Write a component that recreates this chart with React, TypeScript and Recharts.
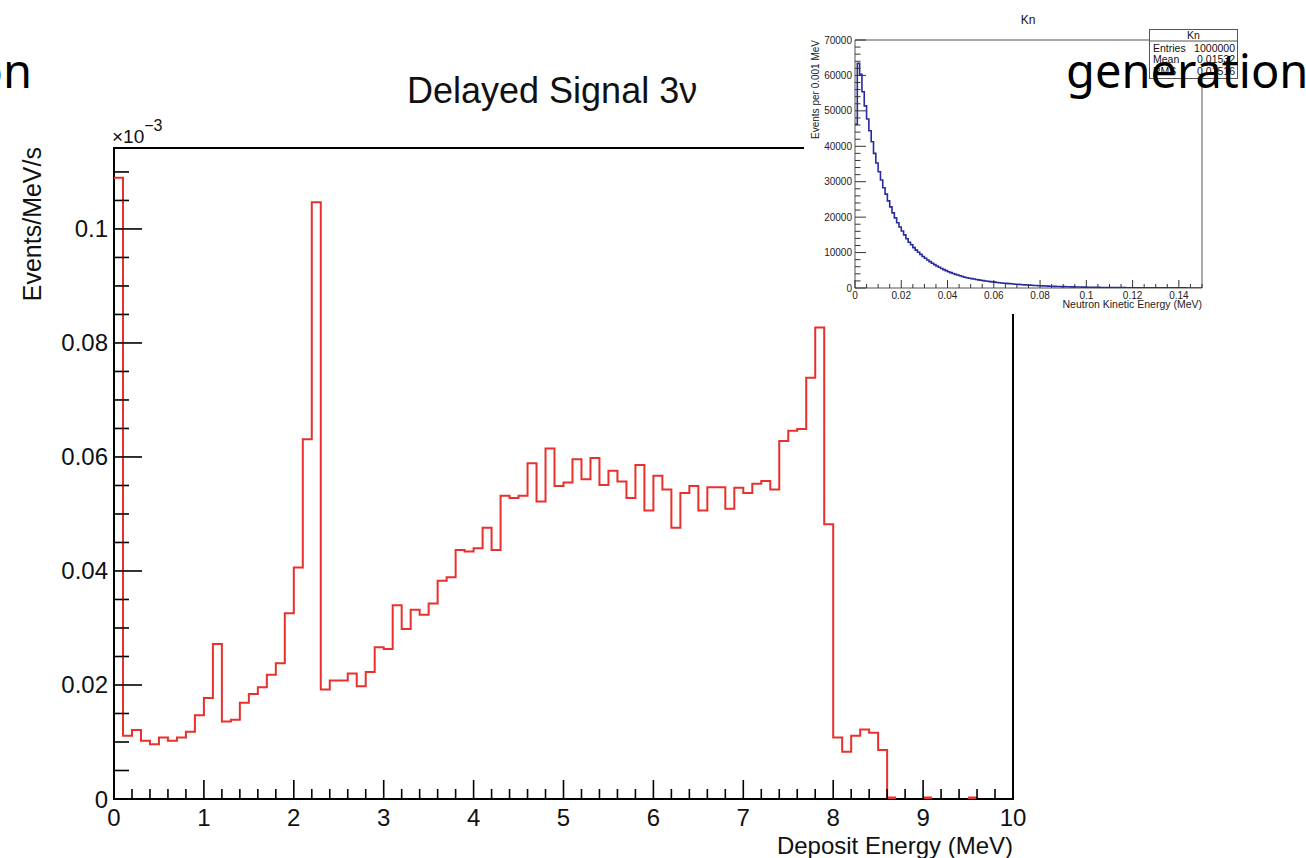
import { LineChart, Line, XAxis, YAxis, ReferenceArea } from 'recharts';

// ---- main histogram: Delayed Signal 3ν (x10^-3 Events/MeV/s per 0.1 MeV bin) ----
const BIN_WIDTH = 0.1;
const DELAYED_RATE = [
  0.109, 0.0111, 0.0121, 0.0102, 0.0096, 0.0108, 0.0102, 0.0108, 0.0118, 0.0147,
  0.0177, 0.0272, 0.0136, 0.0139, 0.0169, 0.0184, 0.0196, 0.0218, 0.0238, 0.0326,
  0.0406, 0.0631, 0.1047, 0.0192, 0.0208, 0.0208, 0.022, 0.0198, 0.0223, 0.0266,
  0.0263, 0.034, 0.0298, 0.0332, 0.0323, 0.0343, 0.0383, 0.0389, 0.0437, 0.0434,
  0.044, 0.0476, 0.0437, 0.0532, 0.0528, 0.0532, 0.0589, 0.0522, 0.0615, 0.0549,
  0.0555, 0.0596, 0.0561, 0.0598, 0.0551, 0.0576, 0.0557, 0.0528, 0.0586, 0.0506,
  0.0567, 0.0543, 0.0476, 0.0537, 0.0549, 0.0506, 0.0547, 0.0547, 0.0509, 0.0546,
  0.0537, 0.0553, 0.0558, 0.0543, 0.0628, 0.0646, 0.0649, 0.0739, 0.0827, 0.0482,
  0.0108, 0.0083, 0.0111, 0.0122, 0.0116, 0.0086, 0.0002, 0, 0, 0,
  0.0002, 0, 0, 0, 0, 0.0002, 0, 0, 0, 0,
];
// from this bin on the histogram lies on the axis, only the tiny bins are drawn
const DELAYED_CUT = 86;
const X_MAJOR = [0, 1, 2, 3, 4, 5, 6, 7, 8, 9, 10];
const Y_MAJOR = [0, 0.02, 0.04, 0.06, 0.08, 0.1];
const Y_MAX = 0.1142;

// ---- inset histogram: Kn (events per 0.001 MeV) ----
const KN_BIN_WIDTH = 0.001;
const KN_COUNTS = [
  46200, 63400, 60300, 55400, 51400, 47700, 44400, 41300, 38000, 35300,
  32800, 30500, 28300, 26500, 24600, 22900, 21200, 19800, 18400, 17200,
  16100, 15000, 13900, 12900, 12200, 11400, 10700, 10100, 9500, 8900,
  8400, 7900, 7450, 7000, 6600, 6200, 5850, 5500, 5200, 4900,
  4600, 4350, 4100, 3850, 3650, 3450, 3250, 3050, 2900, 2750,
  2650, 2520, 2400, 2290, 2180, 2080, 1990, 1900, 1810, 1730,
  1650, 1570, 1500, 1430, 1360, 1300, 1240, 1180, 1120, 1070,
  1020, 970, 925, 880, 840, 800, 760, 725, 690, 655,
  625, 595, 565, 538, 512, 487, 463, 440, 418, 397,
  377, 358, 340, 323, 307, 291, 276, 262, 249, 236,
  224, 212, 201, 190, 180, 170, 161, 152, 144, 136,
  129, 122, 115, 109, 103, 97, 92, 87, 82, 78,
  74, 70, 66, 62, 59, 56, 53, 50, 47, 45,
  42, 40, 38, 36, 34, 32, 30, 29, 27, 26,
  24, 23, 22, 21, 20, 19, 18, 17, 16, 15,
];
const KN_X_MAJOR = [0, 0.02, 0.04, 0.06, 0.08, 0.1, 0.12, 0.14];
const KN_Y_MAJOR = [0, 10000, 20000, 30000, 40000, 50000, 60000, 70000];
const KN_X_MAX = 0.15;
const KN_Y_MAX = 70000;
const KN_STATS = [
  ['Entries', '1000000'],
  ['Mean', '0.01532'],
  ['RMS', '0.01516'],
];

const ROOT_FONT = '"Liberation Sans", Arial, Helvetica, sans-serif';
const RED = '#e8302c';
const BLUE = '#2a2aa0';

const round = (v: number) => Math.round(v * 100000) / 100000;
const steps = (max: number, step: number) =>
  Array.from({ length: Math.round(max / step) + 1 }, (_, i) => round(i * step));
const isMajor = (list: number[], v: number) => list.some((m) => Math.abs(m - v) < 1e-9);

const X_TICKS = steps(10, 0.2);
const Y_TICKS = steps(0.11, 0.005);
const KN_X_TICKS = steps(KN_X_MAX, 0.005);
const KN_Y_TICKS = steps(KN_Y_MAX, 2000);

const delayedData = Array.from({ length: DELAYED_RATE.length + 1 }, (_, i) => {
  const v = DELAYED_RATE[Math.min(i, DELAYED_RATE.length - 1)];
  let t: number | null = null;
  if (i >= DELAYED_CUT) {
    if (i < DELAYED_RATE.length && DELAYED_RATE[i] > 0) t = DELAYED_RATE[i];
    else if (DELAYED_RATE[i - 1] > 0 && i - 1 >= DELAYED_CUT) t = DELAYED_RATE[i - 1];
  }
  return {
    x: round(i * BIN_WIDTH),
    h: i <= DELAYED_CUT ? v : null,
    t,
  };
});

const knData = Array.from({ length: KN_COUNTS.length + 1 }, (_, i) => ({
  x: round(i * KN_BIN_WIDTH),
  n: KN_COUNTS[Math.min(i, KN_COUNTS.length - 1)],
}));

function MainXTick({ x, y, payload }: any) {
  const v = payload.value;
  const major = isMajor(X_MAJOR, v);
  return (
    <g>
      <line x1={x} x2={x} y1={y} y2={y - (major ? 19 : 10)} stroke="#000" strokeWidth={1.6} />
      {major && (
        <text x={x} y={y + 27} textAnchor="middle" fontSize={24} fontFamily={ROOT_FONT} fill="#111">
          {v}
        </text>
      )}
    </g>
  );
}

function MainYTick({ x, y, payload }: any) {
  const v = payload.value;
  const major = isMajor(Y_MAJOR, v);
  return (
    <g>
      <line x1={x} x2={x + (major ? 28 : 15)} y1={y} y2={y} stroke="#000" strokeWidth={1.6} />
      {major && (
        <text x={x - 6} y={y + 8.5} textAnchor="end" fontSize={24} fontFamily={ROOT_FONT} fill="#111">
          {v}
        </text>
      )}
    </g>
  );
}

function KnXTick({ x, y, payload }: any) {
  const v = payload.value;
  const major = isMajor(KN_X_MAJOR, v);
  return (
    <g>
      <line x1={x} x2={x} y1={y} y2={y - (major ? 8 : 4)} stroke="#333" strokeWidth={1} />
      {major && (
        <text x={x} y={y + 11} textAnchor="middle" fontSize={10} fontFamily={ROOT_FONT} fill="#222">
          {v}
        </text>
      )}
    </g>
  );
}

function KnYTick({ x, y, payload }: any) {
  const v = payload.value;
  const major = isMajor(KN_Y_MAJOR, v);
  return (
    <g>
      <line x1={x} x2={x + (major ? 11 : 5.5)} y1={y} y2={y} stroke="#333" strokeWidth={1} />
      {major && (
        <text x={x - 3} y={y + 3.6} textAnchor="end" fontSize={10} fontFamily={ROOT_FONT} fill="#222">
          {v}
        </text>
      )}
    </g>
  );
}

export default function App() {
  return (
    <div style={{ position: 'absolute', left: 0, top: 0, width: 1306, height: 858, background: '#fff', overflow: 'hidden' }}>
      <div style={{ position: 'absolute', left: 0, top: 0 }}>
        <LineChart width={1306} height={858} data={delayedData} margin={{ top: 148, right: 293, bottom: 58, left: 113 }}>
          <XAxis
            dataKey="x"
            type="number"
            domain={[0, 10]}
            ticks={X_TICKS}
            interval={0}
            tick={MainXTick}
            tickLine={false}
            axisLine={false}
            tickSize={0}
            tickMargin={0}
            height={1}
            allowDataOverflow
          />
          <YAxis
            type="number"
            domain={[0, Y_MAX]}
            ticks={Y_TICKS}
            interval={0}
            tick={MainYTick}
            tickLine={false}
            axisLine={false}
            tickSize={0}
            tickMargin={0}
            width={1}
            allowDataOverflow
          />
          <ReferenceArea x1={0} x2={10} y1={0} y2={Y_MAX} fill="none" stroke="#000" strokeWidth={2} />
          <Line dataKey="h" type="stepAfter" stroke={RED} strokeWidth={2} dot={false} activeDot={false} isAnimationActive={false} />
          <Line dataKey="t" type="stepAfter" stroke={RED} strokeWidth={2.5} dot={false} activeDot={false} isAnimationActive={false} />
        </LineChart>
      </div>

      <div style={{ position: 'absolute', left: 804, top: 0, width: 441, height: 314, background: '#fff' }}>
        <LineChart width={441} height={314} data={knData} margin={{ top: 40, right: 43, bottom: 25, left: 50 }}>
          <XAxis
            dataKey="x"
            type="number"
            domain={[0, KN_X_MAX]}
            ticks={KN_X_TICKS}
            interval={0}
            tick={KnXTick}
            tickLine={false}
            axisLine={false}
            tickSize={0}
            tickMargin={0}
            height={1}
            allowDataOverflow
          />
          <YAxis
            type="number"
            domain={[0, KN_Y_MAX]}
            ticks={KN_Y_TICKS}
            interval={0}
            tick={KnYTick}
            tickLine={false}
            axisLine={false}
            tickSize={0}
            tickMargin={0}
            width={1}
            allowDataOverflow
          />
          <ReferenceArea x1={0} x2={KN_X_MAX} y1={0} y2={KN_Y_MAX} fill="none" stroke="#555" strokeWidth={1} />
          <Line dataKey="n" type="stepAfter" stroke={BLUE} strokeWidth={1.6} dot={false} activeDot={false} isAnimationActive={false} />
        </LineChart>
      </div>

      <svg width={1306} height={858} style={{ position: 'absolute', left: 0, top: 0, pointerEvents: 'none' }}>
        {/* main histogram texts */}
        <text x={407} y={103} fontSize={36} fontFamily={ROOT_FONT} fill="#111">
          Delayed Signal 3ν
        </text>
        <text transform="translate(41,147) rotate(-90)" textAnchor="end" fontSize={25} fontFamily={ROOT_FONT} fill="#111">
          Events/MeV/s
        </text>
        <text x={1013} y={854} textAnchor="end" fontSize={24} fontFamily={ROOT_FONT} fill="#111">
          Deposit Energy (MeV)
        </text>
        <text x={112} y={143} fontSize={19} fontFamily={ROOT_FONT} fill="#111">
          ×10
          <tspan dy={-12} fontSize={16}>−3</tspan>
        </text>

        {/* inset texts */}
        <text x={1028} y={24} textAnchor="middle" fontSize={12} fontFamily={ROOT_FONT} fill="#111">
          Kn
        </text>
        <text transform="translate(819,40) rotate(-90)" textAnchor="end" fontSize={10} fontFamily={ROOT_FONT} fill="#222">
          Events per 0.001 MeV
        </text>
        <text x={1202} y={308} textAnchor="end" fontSize={10.5} fontFamily={ROOT_FONT} fill="#222">
          Neutron Kinetic Energy (MeV)
        </text>
        <rect x={1149.5} y={29.5} width={88} height={49} fill="#fff" stroke="#555" strokeWidth={1} />
        <line x1={1149.5} x2={1237.5} y1={41} y2={41} stroke="#555" strokeWidth={1} />
        <text x={1193.5} y={38.5} textAnchor="middle" fontSize={10.5} fontFamily={ROOT_FONT} fill="#111">
          Kn
        </text>
        {KN_STATS.map(([k, v], i) => (
          <g key={k}>
            <text x={1153} y={51.5 + i * 11.5} fontSize={10.5} fontFamily={ROOT_FONT} fill="#111">
              {k}
            </text>
            <text x={1235} y={51.5 + i * 11.5} textAnchor="end" fontSize={10.5} fontFamily={ROOT_FONT} fill="#111">
              {v}
            </text>
          </g>
        ))}

        {/* slide text around the figure */}
        <text x={32} y={88} textAnchor="end" fontSize={47} fontFamily='"Noto Sans", sans-serif' fill="#000">
          on
        </text>
        <text x={1066} y={88} fontSize={47} fontFamily='"Noto Sans", sans-serif' fill="#000">
          generation
        </text>
      </svg>
    </div>
  );
}
